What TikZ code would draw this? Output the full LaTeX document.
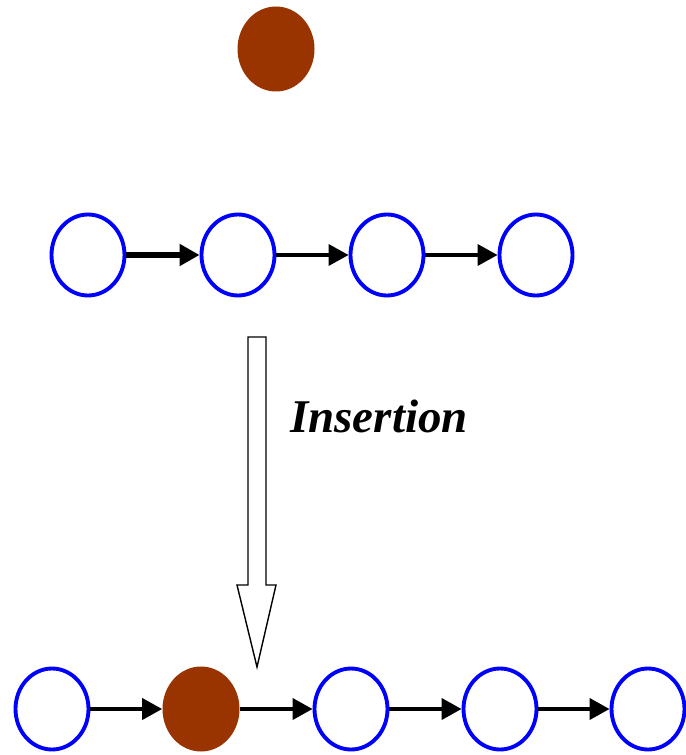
\documentclass[tikz,border=0pt]{standalone}
\usepackage{fontspec}
\setmainfont{Liberation Serif}
\usetikzlibrary{arrows.meta, shapes.geometric}
\definecolor{nblue} {RGB}{  0,  0,255}
\definecolor{nbrown}{RGB}{153, 51,  0}
\tikzset{
  % Empty list node
  EN/.style={ellipse,draw=nblue,fill=white,line width=2.2pt,
             minimum width=1.46cm,minimum height=1.62cm,inner sep=0pt},
  % New (inserted) node
  NN/.style={ellipse,fill=nbrown,
             minimum width=1.54cm,minimum height=1.70cm,inner sep=0pt},
  % Link arrows
  Lnk/.style ={-{Triangle[length=0.40cm,width=0.42cm]},line width=2.0pt,color=black},
  TLnk/.style={Lnk,line width=3.1pt},
  BLnk/.style={Lnk,line width=2.2pt},
  % Hollow block arrow
  Blk/.style ={draw=black,fill=white,line width=0.8pt,line join=miter},
}

\begin{document}
\begin{tikzpicture}
  \useasboundingbox (0,0) rectangle (13.72,-15.1);
  % New node
  \node[NN] at (5.52,-0.98) (new) {};
  % List before insertion
  \node[EN] at (1.76,-5.10) (a1) {};
  \node[EN] at (4.76,-5.10) (a2) {};
  \node[EN] at (7.74,-5.10) (a3) {};
  \node[EN] at (10.72,-5.10) (a4) {};
  \draw[TLnk] (a1.east) -- (a2.west);
  \draw[Lnk] (a2.east) -- (a3.west);
  \draw[Lnk] (a3.east) -- (a4.west);
  % Insertion arrow
  \draw[Blk] (4.96,-6.74) -- (5.32,-6.74) -- (5.32,-11.70) -- (5.52,-11.70)
        -- (5.14,-13.34) -- (4.74,-11.70) -- (4.96,-11.70) -- cycle;
  \node[anchor=base west,inner sep=0pt,
        font=\fontsize{26.7}{30}\selectfont\bfseries\itshape] at (5.80,-8.64) (ins)
        {Insertion};
  % List after insertion
  \node[EN] at (1.04,-14.18) (b1) {};
  \node[NN] at (4.02,-14.18) (b2) {};
  \node[EN] at (7.02,-14.18) (b3) {};
  \node[EN] at (10.00,-14.18) (b4) {};
  \node[EN] at (12.96,-14.18) (b5) {};
  \draw[BLnk] (b1.east) -- (b2.west);
  \draw[BLnk] (b2.east) -- (b3.west);
  \draw[BLnk] (b3.east) -- (b4.west);
  \draw[BLnk] (b4.east) -- (b5.west);
\end{tikzpicture}
\end{document}
